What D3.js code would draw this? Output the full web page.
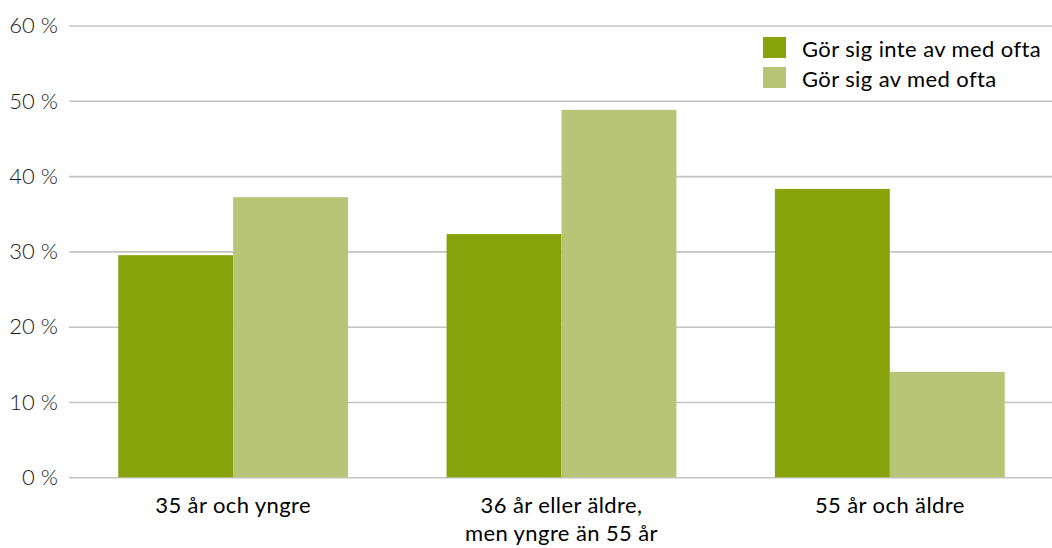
<!DOCTYPE html>
<html><head><meta charset="utf-8">
<script src="https://cdn.jsdelivr.net/npm/d3@7"></script>
<style>
html,body{margin:0;padding:0;background:#fff;}
svg{display:block;font-family:Lato,"Open Sans",sans-serif;}
</style></head>
<body>
<svg id="chart" width="1052" height="548"></svg>
<script>
const categories = ["35 år och yngre", "36 år eller äldre,\nmen yngre än 55 år", "55 år och äldre"];
const seriesNames = ["Gör sig inte av med ofta", "Gör sig av med ofta"];
const inteOfta = [29.5, 32.3, 38.3];
const avOfta = [37.2, 48.8, 14.0];
const tickValues = [0, 10, 20, 30, 40, 50, 60];
const colors = ["#87a20b", "#b8c577"];

(function() {
const svg = d3.select("#chart");
const mLeft = 69, mRight = 1054, mTop = 25.5, mBottom = 477.3;

const y = d3.scaleLinear().domain([0, 60]).range([mBottom, mTop]);
const x0 = d3.scaleBand().domain(categories).range([mLeft, mRight]).paddingInner(0.3).paddingOuter(0.15);
const x1 = d3.scaleBand().domain(seriesNames).range([0, x0.bandwidth()]);

const yAxis = d3.axisLeft(y).tickValues(tickValues).tickSize(-(1052 - mLeft)).tickPadding(11)
  .tickFormat(d => d + " %");
const ga = svg.append("g").attr("transform", `translate(${mLeft},0)`).call(yAxis);
ga.select(".domain").remove();
ga.selectAll(".tick line").attr("stroke", "#c4c4c4").attr("stroke-width", 1.6);
ga.selectAll(".tick text").attr("fill", "#1a1a1a").attr("font-size", 22).attr("font-weight", 300)
  .attr("font-family", "Lato, sans-serif").attr("dy", "0.33em");

const data = categories.map((c, i) => ({cat: c, vals: [inteOfta[i], avOfta[i]]}));
const groups = svg.append("g").selectAll("g").data(data).join("g")
  .attr("transform", d => `translate(${x0(d.cat)},0)`);
groups.selectAll("rect").data(d => d.vals.map((v, j) => ({name: seriesNames[j], v, j})))
  .join("rect")
  .attr("x", d => x1(d.name))
  .attr("width", x1.bandwidth())
  .attr("y", d => y(d.v))
  .attr("height", d => y(0) - y(d.v))
  .attr("fill", d => colors[d.j]);

const labels = svg.append("g").selectAll("text").data(categories).join("text")
  .attr("x", d => x0(d) + x0.bandwidth() / 2)
  .attr("y", 513)
  .attr("text-anchor", "middle")
  .attr("font-size", 22)
  .attr("letter-spacing", 0.4)
  .attr("fill", "#000");
labels.each(function(d) {
  const lines = d.split("\n");
  const t = d3.select(this);
  lines.forEach((l, i) => t.append("tspan").attr("x", x0(d) + x0.bandwidth() / 2).attr("dy", i === 0 ? 0 : 28).text(l));
});

const lg = svg.append("g").attr("transform", "translate(763,37)");
seriesNames.forEach((n, i) => {
  const g = lg.append("g").attr("transform", `translate(0,${i * 30})`);
  g.append("rect").attr("width", 23).attr("height", 21).attr("fill", colors[i]);
  g.append("text").attr("x", 39).attr("y", 20).attr("font-size", 22).attr("letter-spacing", 0.4)
    .attr("fill", "#000").text(n);
});
})();
</script>
</body></html>
